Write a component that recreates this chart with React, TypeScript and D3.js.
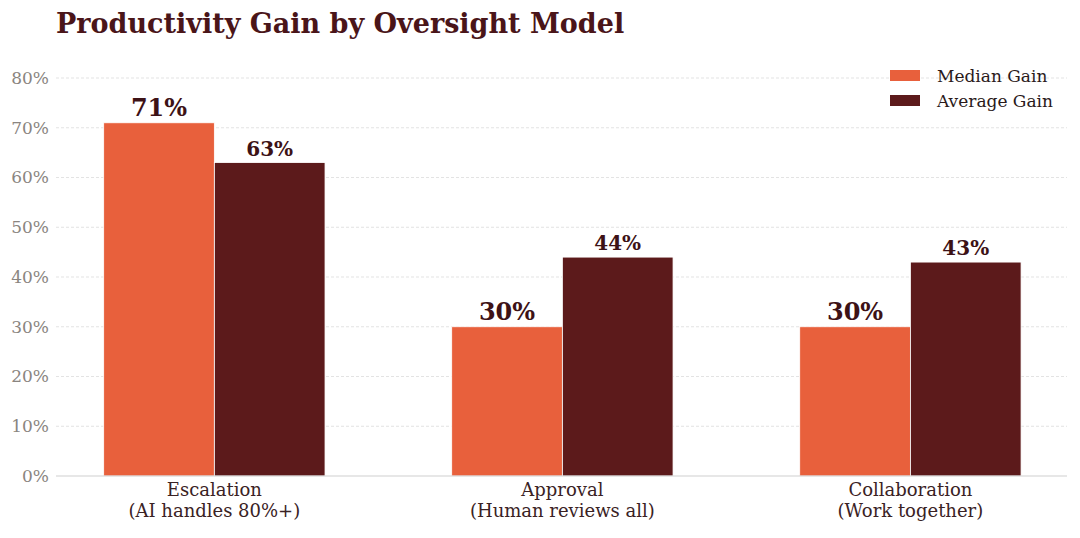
import React from "react";
import * as d3 from "d3";

const categories = ["Escalation", "Approval", "Collaboration"];
const subLabels = ["(AI handles 80%+)", "(Human reviews all)", "(Work together)"];
const seriesNames = ["Median Gain", "Average Gain"];
const medianGain = [71, 30, 30];
const averageGain = [63, 44, 43];
const yTicks = [0, 10, 20, 30, 40, 50, 60, 70, 80];

const W = 1080;
const H = 538;
const colors = ["#E8603C", "#5C1A1B"];
const font = "'DejaVu Serif', serif";

export default function App() {
  const x = d3.scaleLinear().domain([-0.455, 2.45]).range([56, 1067]);
  const y = d3.scaleLinear().domain([0, 80]).range([476, 78]);
  const bw = 0.318;
  const series = [medianGain, averageGain];

  return (
    <svg width={W} height={H} style={{ position: "absolute", left: 0, top: 0, background: "#fff" }}>
      <text x={56} y={33} fontFamily={font} fontWeight="bold" fontSize={27} fill="#4A1519">
        Productivity Gain by Oversight Model
      </text>
      {yTicks.map((t) => (
        <g key={t}>
          {t > 0 && (
            <line x1={x.range()[0]} x2={x.range()[1]} y1={y(t)} y2={y(t)} stroke="#dcdcdc" strokeWidth={0.8} strokeDasharray="3,2" />
          )}
          <text x={49} y={y(t)} dy="0.35em" textAnchor="end" fontFamily={font} fontSize={17} fill="#8a8580">
            {t}%
          </text>
        </g>
      ))}
      {series.map((vals, si) =>
        vals.map((v, i) => {
          const x0 = x(i + (si === 0 ? -bw : 0));
          const x1 = x(i + (si === 0 ? 0 : bw));
          return (
            <g key={`${si}-${i}`}>
              <rect x={x0} y={y(v)} width={x1 - x0} height={y(0) - y(v)} fill={colors[si]} stroke="#fff" strokeWidth={0.8} />
              <text
                x={(x0 + x1) / 2}
                y={y(v) - 7}
                textAnchor="middle"
                fontFamily={font}
                fontWeight="bold"
                fontSize={si === 0 ? 24 : 20}
                fill="#3D1216"
              >
                {v}%
              </text>
            </g>
          );
        })
      )}
      <line x1={x.range()[0]} x2={x.range()[1]} y1={y(0)} y2={y(0)} stroke="#cfcfcf" strokeWidth={1.2} />
      {categories.map((c, i) => (
        <g key={c}>
          <text x={x(i)} y={496} textAnchor="middle" fontFamily={font} fontSize={18} fill="#3A2224">
            {c}
          </text>
          <text x={x(i)} y={517} textAnchor="middle" fontFamily={font} fontSize={18} fill="#3A2224">
            {subLabels[i]}
          </text>
        </g>
      ))}
      {seriesNames.map((n, i) => (
        <g key={n}>
          <rect x={890} y={70 + i * 25} width={30} height={11} fill={colors[i]} />
          <text x={937} y={76 + i * 25} dy="0.35em" fontFamily={font} fontSize={17} fill="#2A1A1A">
            {n}
          </text>
        </g>
      ))}
    </svg>
  );
}
